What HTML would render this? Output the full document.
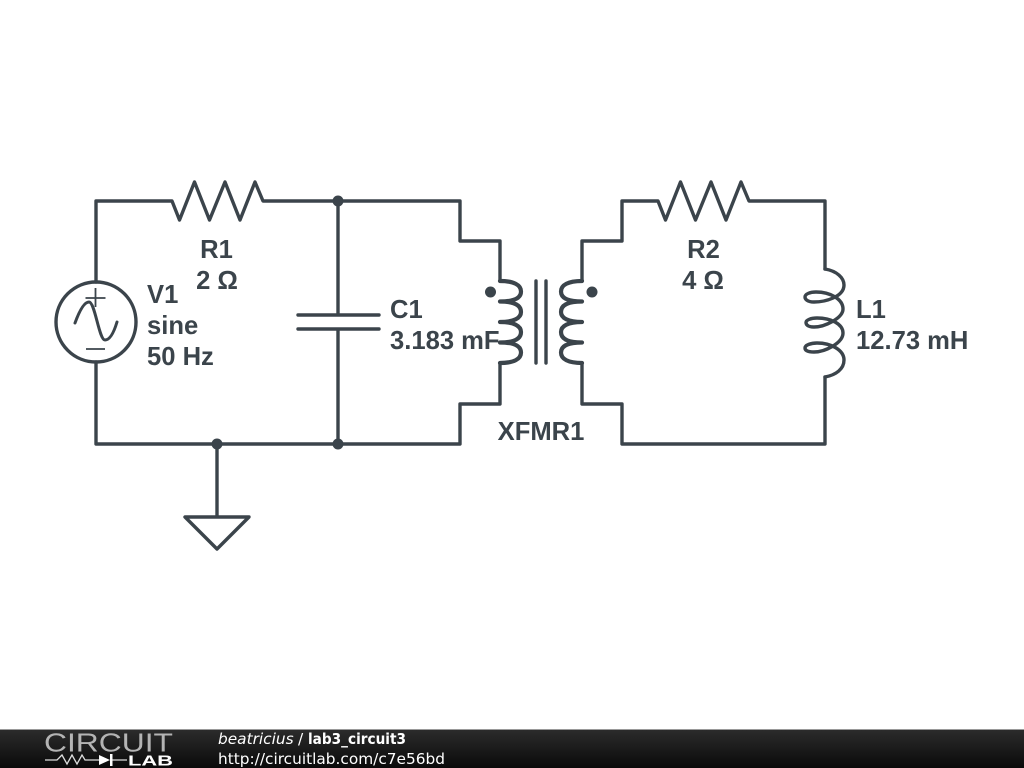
<!DOCTYPE html>
<html><head><meta charset="utf-8"><style>
html,body{margin:0;padding:0;background:#fff}
svg{display:block}
.w{fill:none;stroke:#3b444b;stroke-width:3.400;stroke-linejoin:round;stroke-linecap:round}
.c{stroke-width:4.200}
.t{font-family:"Liberation Sans",sans-serif;font-weight:bold;font-size:25.600px;fill:#3b444b}
.f{font-family:"DejaVu Sans",sans-serif;font-size:15.350px;fill:#fff}
</style></head><body>
<svg width="1024" height="768" viewBox="0 0 1024 768" xmlns="http://www.w3.org/2000/svg">
<defs><linearGradient id="g" x1="0" y1="0" x2="0" y2="1"><stop offset="0" stop-color="#2c2c2c"/><stop offset="1" stop-color="#0a0a0a"/></linearGradient></defs>
<rect width="1024" height="768" fill="#fff"/>
<path class="w" d="M96,282V201H172L179.500,220L194.500,182L209.500,220L225,182L240,220L255,182L263,201H460V241H500V281"/>
<path class="w" d="M96,362V444H460V404H500V363"/>
<path class="w" d="M582,363V404H622V444H825V377"/>
<path class="w" d="M582,281V241H622V201H658L665.500,220L680.500,182L695.500,220L711,182L726,220L741,182L749,201H825V269"/>
<circle class="w" cx="96" cy="322" r="40"/>
<path d="M85.500,298H105.500M95.500,288V307M86,349H105" fill="none" stroke="#3b444b" stroke-width="1.800"/>
<path class="w" style="stroke-width:3" d="M75,323C79,312 84,302 89,302C95,302 99,340 105,340C110,340 114,332 117,322"/>
<path class="w" d="M338,201V315M338,329V444M298,315H379M298,329H379"/>
<path class="w" d="M217,444V517M185,517H249L217,549Z"/>
<circle cx="338" cy="201" r="5.500" fill="#3b444b"/>
<circle cx="338" cy="444" r="5.500" fill="#3b444b"/>
<circle cx="217" cy="444" r="5.500" fill="#3b444b"/>
<circle cx="490.500" cy="292" r="5.500" fill="#3b444b"/>
<circle cx="592" cy="292" r="5.500" fill="#3b444b"/>
<path class="w c" d="M500,281C514,281 521,285 521,291.500C521,298 514,301.500 500,301.500C514,301.500 521,305 521,312C521,318 514,322 500,322C514,322 521,326 521,332C521,339 514,342.500 500,342.500C514,342.500 521,346 521,352.500C521,359 514,363 500,363"/>
<path class="w c" d="M582,281C568,281 561,285 561,291.500C561,298 568,301.500 582,301.500C568,301.500 561,305 561,312C561,318 568,322 582,322C568,322 561,326 561,332C561,339 568,342.500 582,342.500C568,342.500 561,346 561,352.500C561,359 568,363 582,363"/>
<path class="w" d="M536,281V363M546,281V363"/>
<path class="w" d="M825,269C837,271 844,278 844,285C844,297 825,302 814,302C807,302 805,299 805,297C805,294 810,292 816,292C830,292 843,299 843,309C843,318 825,327 814,327C807,327 806,324 806,322.500C806,320 811,318 817,318C831,318 843,324 843,333C843,343 825,352 814,352C807,352 805,350 805,348C805,345 811,343 817,343C831,343 844,350 844,360C844,369 836,375 825,377"/>
<text class="t" x="216.500" y="258" text-anchor="middle">R1</text>
<text class="t" x="217" y="289" text-anchor="middle">2 Ω</text>
<text class="t" x="147" y="303">V1</text>
<text class="t" x="147" y="334">sine</text>
<text class="t" x="147" y="365">50 Hz</text>
<text class="t" x="390" y="318">C1</text>
<text class="t" x="390" y="349">3.183 mF</text>
<text class="t" x="541" y="440" text-anchor="middle">XFMR1</text>
<text class="t" x="703.500" y="258" text-anchor="middle">R2</text>
<text class="t" x="703" y="289" text-anchor="middle">4 Ω</text>
<text class="t" x="856" y="318">L1</text>
<text class="t" x="856" y="349">12.73 mH</text>
<rect x="0" y="729" width="1024" height="39" fill="url(#g)"/>
<rect x="0" y="729" width="1024" height="1" fill="#999"/>
<text x="44" y="751.500" font-family="Liberation Sans,sans-serif" font-size="25.500" fill="#b4b4b4" textLength="129" lengthAdjust="spacingAndGlyphs">CIRCUIT</text>
<path d="M45,760H57L62,755L67,764L72,755L77,764L82,755L85,760H99M112,760H127" fill="none" stroke="#ddd" stroke-width="1.300"/>
<path d="M99,755V765L110,760ZM110,754H112.500V766H110Z" fill="#fff"/>
<text x="128" y="765.500" font-family="Liberation Sans,sans-serif" font-weight="bold" font-size="15" fill="#fff" textLength="45" lengthAdjust="spacingAndGlyphs">LAB</text>
<text class="f" x="218" y="744" font-style="italic">beatricius</text>
<text class="f" x="298" y="744">/</text>
<text class="f" x="308" y="744" font-weight="bold" textLength="98" lengthAdjust="spacingAndGlyphs">lab3_circuit3</text>
<text class="f" x="218" y="764">http://circuitlab.com/c7e56bd</text>
</svg>
</body></html>
